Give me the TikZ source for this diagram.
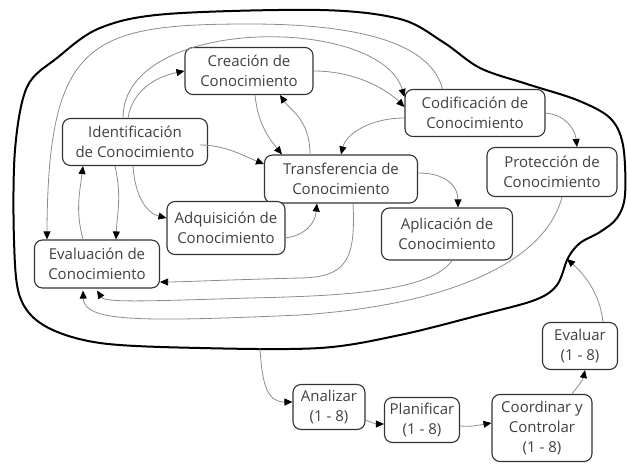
\documentclass[tikz,border=0pt]{standalone}
\usepackage{fontspec}
\setmainfont{Open Sans}
\usetikzlibrary{arrows.meta,calc}
\tikzset{
  kn/.style={draw=black!80, line width=1.1pt, rounded corners=8pt, fill=white,
    align=center, font=\fontsize{15}{20}\selectfont, text=black!75, inner sep=0pt},
  link/.style={draw=black!45, line width=0.8pt,
    -{Triangle[length=8pt,width=7pt,color=black]}},
  blob/.style={draw=black, line width=2pt},
}
\begin{document}
\begin{tikzpicture}[x=1pt,y=-1pt]
\useasboundingbox (0,0) rectangle (627,464);
% outer blob
\draw[blob] plot[smooth cycle, tension=0.55] coordinates {
 (27,87) (57,58) (100,28) (167,14) (320,10) (400,19) (443,42) (480,68)
 (527,84) (577,100) (610,118) (623,145) (625,195) (617,218) (600,232)
 (580,243) (568,258) (557,285) (535,300) (480,315) (400,335) (320,348)
 (200,348) (100,343) (45,326) (20,297) (14,240) (15,150)};
\coordinate (bout) at (260,348);
\coordinate (bin) at (567,259);
% nodes
\node[kn, minimum width=128pt, minimum height=47pt] (crea) at (249,71) {Creación de\\Conocimiento};
\node[kn, minimum width=140pt, minimum height=47pt] (codif) at (475,113) {Codificación de\\Conocimiento};
\node[kn, minimum width=145pt, minimum height=47pt] (ident) at (135,142) {Identificación\\de Conocimiento};
\node[kn, minimum width=153pt, minimum height=48pt] (trans) at (341,179) {Transferencia de\\Conocimiento};
\node[kn, minimum width=130pt, minimum height=49pt] (prot) at (552,172) {Protección de\\Conocimiento};
\node[kn, minimum width=118pt, minimum height=53pt] (adq) at (226,228) {Adquisición de\\Conocimiento};
\node[kn, minimum width=131pt, minimum height=52pt] (apl) at (447,234) {Aplicación de\\Conocimiento};
\node[kn, minimum width=125pt, minimum height=48pt] (eval) at (97,264) {Evaluación de\\Conocimiento};
\node[kn, minimum width=72pt, minimum height=45pt] (anal) at (329,407) {Analizar\\(1 - 8)};
\node[kn, minimum width=75pt, minimum height=45pt] (plan) at (422,420) {Planificar\\(1 - 8)};
\node[kn, minimum width=100pt, minimum height=67pt] (coord) at (542,428) {Coordinar y\\Controlar\\(1 - 8)};
\node[kn, minimum width=75pt, minimum height=47pt] (evalr) at (580,346) {Evaluar\\(1 - 8)};
% connectors
\draw[link] ($(ident.north)+(-7,0)$) .. controls +(5,-30) and +(-25,5) .. (crea.west);
\draw[link] ($(ident.north)+(-12,0)$) .. controls (123,15) and (380,15) .. ($(codif.north west)+(0,8)$);
\draw[link] ($(codif.north west)+(38,0)$) .. controls (430,40) and (350,24) .. (250,24)
   .. controls (90,24) and (48,40) .. ($(eval.north west)+(13,0)$);
\draw[link] (crea.east) .. controls +(45,0) and +(-15,-15) .. ($(codif.west)+(0,-6)$);
\draw[link] ($(crea.south)+(6,0)$) .. controls +(3,30) and +(-12,-15) .. ($(trans.north west)+(18,0)$);
\draw[link] ($(trans.north)+(-31,0)$) .. controls +(0,-35) and +(10,15) .. ($(crea.south)+(31,0)$);
\draw[link] ($(codif.west)+(0,5)$) .. controls +(-35,0) and +(5,-20) .. (trans.north);
\draw[link] ($(ident.east)+(-8,3)$) .. controls +(25,0) and +(-20,-8) .. ($(trans.west)+(0,-15)$);
\draw[link] (codif.east) .. controls +(20,2) and +(-2,-18) .. ($(prot.north)+(25,0)$);
\draw[link] ($(trans.east)+(0,-6)$) .. controls +(27,0) and +(0,-22) .. ($(apl.north)+(11,0)$);
\draw[link] ($(ident.south)+(-2,0)$) .. controls +(2,30) and +(-20,-5) .. ($(adq.west)+(0,-10)$);
\draw[link] ($(adq.east)+(0,10)$) .. controls +(20,-3) and +(-2,20) .. ($(trans.south)+(-24,0)$);
\draw[link] ($(ident.south)+(-20,0)$) .. controls +(7,30) and +(1,-25) .. ($(eval.north)+(19,0)$);
\draw[link] ($(eval.north)+(-14,0)$) .. controls +(-8,-30) and +(-3,25) .. ($(ident.south)+(-52,0)$);
\draw[link] ($(trans.south)+(12,0)$) .. controls (356,262) and (345,277) .. (300,278)
   .. controls (220,280) and (180,282) .. ($(eval.east)+(0,18)$);
\draw[link] ($(apl.south)+(5,0)$) .. controls (430,292) and (340,296) .. (250,298)
   .. controls (150,301) and (105,303) .. ($(eval.south)+(0,2)$);
\draw[link] ($(prot.south)+(10,0)$) .. controls (545,262) and (450,305) .. (300,315)
   .. controls (140,322) and (84,322) .. ($(eval.south)+(-14,2)$);
\draw[link] (bout) .. controls +(2,37) and +(-25,0) .. ($(anal.west)+(0,-5)$);
\draw[link] ($(anal.east)+(0,13)$) .. controls +(10,4) and +(-8,0) .. ($(plan.west)+(0,4)$);
\draw[link] ($(plan.east)+(0,6)$) .. controls +(12,1) and +(-12,2) .. ($(coord.west)+(0,-5)$);
\draw[link] ($(coord.north)+(30,0)$) .. controls +(6,-8) and +(-2,10) .. ($(evalr.south)+(5,0)$);
\draw[link] ($(evalr.north)+(23,0)$) .. controls +(-3,-28) and +(18,16) .. (bin);
\end{tikzpicture}
\end{document}
